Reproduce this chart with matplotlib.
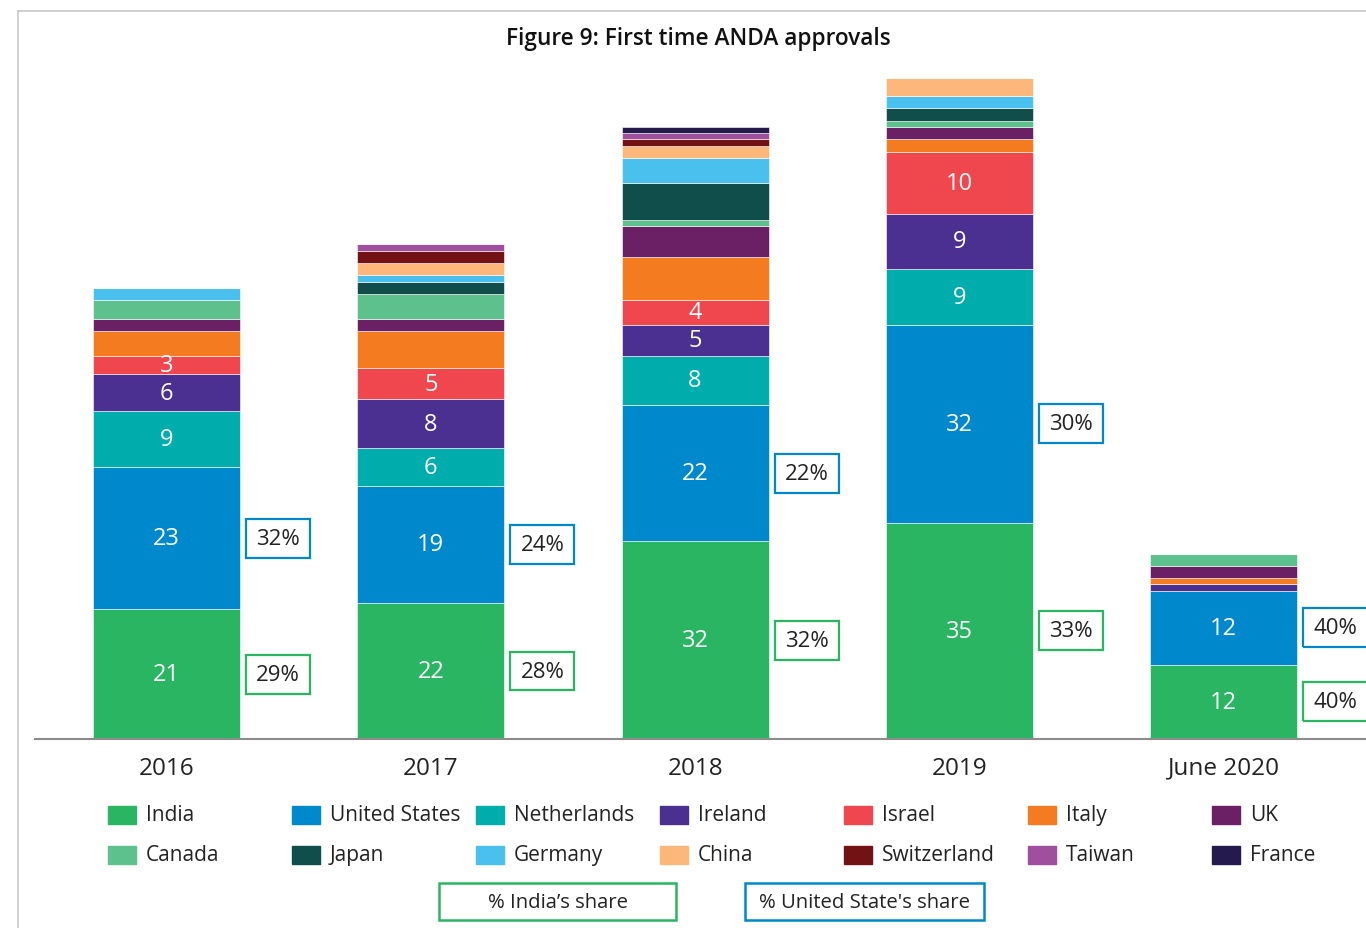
import numpy as np
import matplotlib
matplotlib.use('Agg')
import matplotlib.pyplot as plt
from matplotlib.patches import Rectangle
from matplotlib.lines import Line2D

plt.rcParams['font.family'] = ['Open Sans', 'DejaVu Sans']

years = ['2016', '2017', '2018', '2019', 'June 2020']
countries = ['India', 'United States', 'Netherlands', 'Ireland', 'Israel', 'Italy', 'UK',
             'Canada', 'Japan', 'Germany', 'China', 'Switzerland', 'Taiwan', 'France']
colors = ['#2ab563', '#0088cc', '#00adad', '#4b2f91', '#f0464d', '#f47b20', '#6b1f64',
          '#5cc18c', '#0f4e4b', '#4ac0ef', '#fdb77b', '#731214', '#a04f9e', '#251a4d']

india = [21, 22, 32, 35, 12]
united_states = [23, 19, 22, 32, 12]
netherlands = [9, 6, 8, 9, 0]
ireland = [6, 8, 5, 9, 1]
israel = [3, 5, 4, 10, 0]
italy = [4, 6, 7, 2, 1]
uk = [2, 2, 5, 2, 2]
canada = [3, 4, 1, 1, 2]
japan = [0, 2, 6, 2, 0]
germany = [2, 1, 4, 2, 0]
china = [0, 2, 2, 3, 0]
switzerland = [0, 2, 1, 0, 0]
taiwan = [0, 1, 1, 0, 0]
france = [0, 0, 1, 0, 0]

india_share = ['29%', '28%', '32%', '33%', '40%']
us_share = ['32%', '24%', '22%', '30%', '40%']

series = [india, united_states, netherlands, ireland, israel, italy, uk,
          canada, japan, germany, china, switzerland, taiwan, france]

W, H = 1366, 929
fig = plt.figure(figsize=(W / 100, H / 100), dpi=100)
ax = fig.add_axes([35 / W, 189 / H, 1331 / W, 680 / H])

x = np.arange(len(years))
bar_w = 0.556
bottom = np.zeros(len(years))
for k, (vals, col) in enumerate(zip(series, colors)):
    vals = np.array(vals, dtype=float)
    ax.bar(x, vals, bar_w, bottom=bottom, color=col, edgecolor='white', linewidth=0.4)
    if k < 5:
        for i, v in enumerate(vals):
            if v >= 3:
                ax.text(x[i], bottom[i] + v / 2, str(int(v)), ha='center', va='center',
                        color='white', fontsize=17)
    bottom += vals

# share boxes next to India and US segments
box_w, box_h, off = 0.242, 6.3, 0.422
for i in range(len(years)):
    for cy, lab, ec in [(india[i] / 2, india_share[i], '#2ab563'),
                        (india[i] + united_states[i] / 2, us_share[i], '#0088cc')]:
        ax.add_patch(Rectangle((x[i] + off - box_w / 2, cy - box_h / 2), box_w, box_h,
                               fill=False, edgecolor=ec, lw=1.6, clip_on=False))
        ax.text(x[i] + off, cy, lab, ha='center', va='center', fontsize=16, color='#222222')

ax.set_xlim(-0.498, 4.539)
ax.set_ylim(0, 110)
for s in ax.spines.values():
    s.set_visible(False)
ax.axhline(0, color='#8c8c8c', lw=1.5, clip_on=False)
ax.set_xticks(x, years)
ax.set_yticks([])
ax.tick_params(axis='x', length=0, labelsize=17.5, pad=12, labelcolor='#222222')

fig.text(698 / W, 1 - 39 / H, 'Figure 9: First time ANDA approvals', ha='center', va='center',
         fontsize=16.3, fontweight='semibold', color='#111111')

# legend
for i, (name, col) in enumerate(zip(countries, colors)):
    c, r = i % 7, i // 7
    px, py = 108 + c * 184, 816 + r * 40
    fig.add_artist(Rectangle((px / W, 1 - (py + 9) / H), 28 / W, 18 / H,
                             transform=fig.transFigure, color=col))
    fig.text((px + 38) / W, 1 - py / H, name, ha='left', va='center', fontsize=15,
             color='#222222')

for x0, x1, lab, ec in [(439, 676, "% India’s share", '#2ab563'),
                        (745, 984, "% United State's share", '#0088cc')]:
    fig.add_artist(Rectangle((x0 / W, 1 - 921 / H), (x1 - x0) / W, 37 / H,
                             transform=fig.transFigure, fill=False, edgecolor=ec, lw=1.8))
    fig.text((x0 + x1) / 2 / W, 1 - 903 / H, lab, ha='center', va='center', fontsize=14.6,
             color='#222222')

# outer frame
fig.add_artist(Line2D([18 / W, 18 / W], [0, 1 - 12 / H], transform=fig.transFigure,
                      color='#c8c8c8', lw=1.2))
fig.add_artist(Line2D([18 / W, 1], [1 - 12 / H, 1 - 12 / H], transform=fig.transFigure,
                      color='#c8c8c8', lw=1.2))

fig.savefig('out.png', dpi=100)
